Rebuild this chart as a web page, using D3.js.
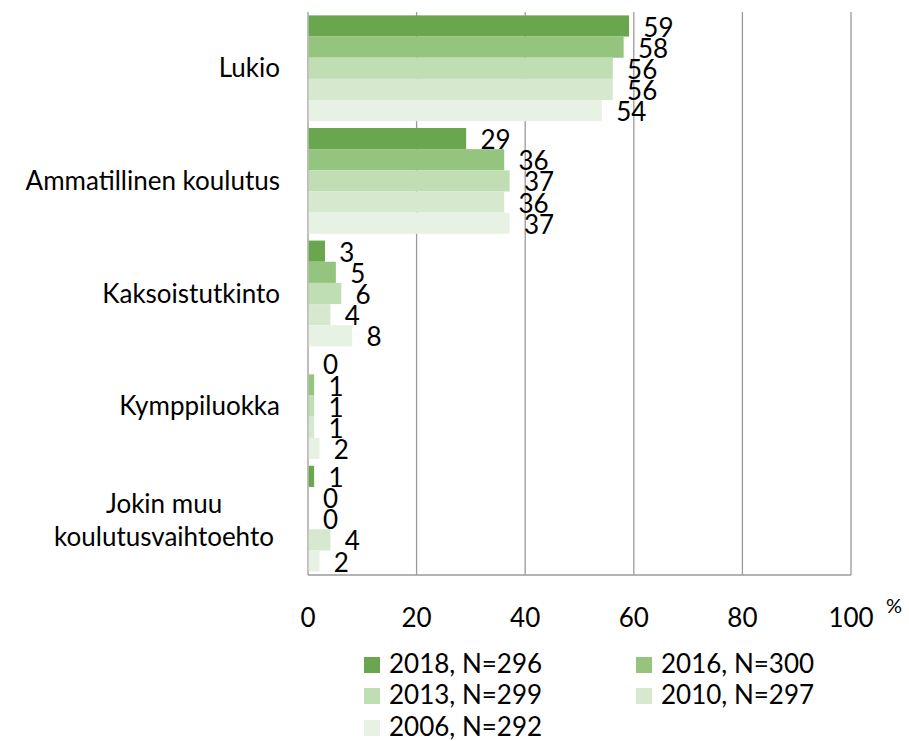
<!DOCTYPE html>
<html>
<head>
<meta charset="utf-8">
<script src="https://cdn.jsdelivr.net/npm/d3@7"></script>
<style>
    body { margin: 0; background: #fff; }
    svg text { font-family: Lato, "Open Sans", sans-serif; fill: #000; }
</style>
</head>
<body>
<svg id="chart"></svg>
<script>
const categories = ['Lukio', 'Ammatillinen koulutus', 'Kaksoistutkinto', 'Kymppiluokka', 'Jokin muu koulutusvaihtoehto'];
const seriesNames = ['2018, N=296', '2016, N=300', '2013, N=299', '2010, N=297', '2006, N=292'];
const seriesColors = ['#6aa64e', '#94c47d', '#c0deb3', '#d6e9ce', '#e8f2e4'];
const values2018 = [59, 29, 3, 0, 1];
const values2016 = [58, 36, 5, 1, 0];
const values2013 = [56, 37, 6, 1, 0];
const values2010 = [56, 36, 4, 1, 4];
const values2006 = [54, 37, 8, 2, 2];
const xTicks = [0, 20, 40, 60, 80, 100];

const seriesValues = [values2018, values2016, values2013, values2010, values2006];

const width = 909, height = 741;
const margin = { top: 12, left: 308, right: 58, bottom: 166 };
const plotW = width - margin.left - margin.right;
const plotH = height - margin.top - margin.bottom;
const fs = 26;

const svg = d3.select('#chart')
    .attr('width', width)
    .attr('height', height);

const chart = svg.append('g')
    .attr('transform', `translate(${margin.left},${margin.top})`);

const xScale = d3.scaleLinear().domain([0, 100]).range([0, plotW]);
const yScale = d3.scaleBand().domain(categories).range([0, plotH])
    .paddingInner(0.06).paddingOuter(0.03);
const ySub = d3.scaleBand().domain(seriesNames).range([0, yScale.bandwidth()]);

// gridlines
chart.selectAll('.grid')
    .data(xTicks)
    .join('line')
    .attr('x1', d => xScale(d))
    .attr('x2', d => xScale(d))
    .attr('y1', 0)
    .attr('y2', plotH)
    .attr('stroke', '#9a9a9a')
    .attr('stroke-width', 1.3);

chart.append('line')
    .attr('x1', 0).attr('x2', plotW)
    .attr('y1', plotH).attr('y2', plotH)
    .attr('stroke', '#9a9a9a')
    .attr('stroke-width', 1.3);

const rows = [];
categories.forEach((c, i) => {
    seriesNames.forEach((s, j) => {
        rows.push({ cat: c, series: s, value: seriesValues[j][i], color: seriesColors[j] });
    });
});

chart.selectAll('.bar')
    .data(rows)
    .join('rect')
    .attr('x', xScale(0) + 0.7)
    .attr('y', d => yScale(d.cat) + ySub(d.series))
    .attr('width', d => xScale(d.value))
    .attr('height', ySub.bandwidth())
    .attr('fill', d => d.color);

chart.selectAll('.val')
    .data(rows)
    .join('text')
    .attr('x', d => xScale(d.value) + 15)
    .attr('y', d => yScale(d.cat) + ySub(d.series) + ySub.bandwidth())
    .style('font-size', fs + 'px')
    .text(d => d.value);

// category labels
categories.forEach(c => {
    const yc = yScale(c) + yScale.bandwidth() / 2;
    if (c === 'Jokin muu koulutusvaihtoehto') {
        const t = chart.append('text')
            .attr('text-anchor', 'middle')
            .style('font-size', fs + 'px');
        t.append('tspan').attr('x', -144).attr('y', yc - 6).text('Jokin muu');
        t.append('tspan').attr('x', -144).attr('y', yc + 27).text('koulutusvaihtoehto');
    } else {
        chart.append('text')
            .attr('x', -28)
            .attr('y', yc + 9)
            .attr('text-anchor', 'end')
            .style('font-size', fs + 'px')
            .text(c);
    }
});

// x tick labels
chart.selectAll('.xt')
    .data(xTicks)
    .join('text')
    .attr('x', d => xScale(d))
    .attr('y', plotH + 52)
    .attr('text-anchor', 'middle')
    .style('font-size', fs + 'px')
    .text(d => d);

chart.append('text')
    .attr('x', plotW + 43)
    .attr('y', plotH + 38)
    .attr('text-anchor', 'middle')
    .style('font-size', '20px')
    .text('%');

// legend
const legend = svg.append('g');
const legendPos = [[364, 657], [636, 657], [364, 688], [636, 688], [364, 720]];
seriesNames.forEach((s, i) => {
    const [lx, ly] = legendPos[i];
    legend.append('rect')
        .attr('x', lx).attr('y', ly)
        .attr('width', 16).attr('height', 16)
        .attr('fill', seriesColors[i]);
    legend.append('text')
        .attr('x', lx + 25).attr('y', ly + 16)
        .style('font-size', fs + 'px')
        .text(s);
});
</script>
</body>
</html>
